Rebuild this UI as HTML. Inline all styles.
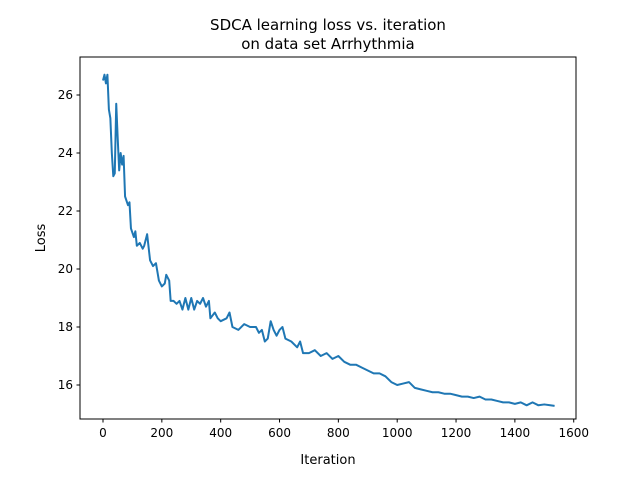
<!DOCTYPE html>
<html><head><meta charset="utf-8"><style>
body{margin:0;background:#fff;font-family:"Liberation Sans",sans-serif}
svg text{font-family:"DejaVu Sans","Liberation Sans",sans-serif}
</style></head><body>
<svg id="c" width="640" height="476" viewBox="0 0 640 476">
<text x="328" y="30" text-anchor="middle" font-size="15">SDCA learning loss vs. iteration</text>
<text x="328" y="49" text-anchor="middle" font-size="15">on data set Arrhythmia</text>
<text x="328" y="464" text-anchor="middle" font-size="13">Iteration</text>
<text transform="translate(45,238) rotate(-90)" text-anchor="middle" font-size="13">Loss</text>
<g id="marks"></g>
<rect x="80" y="57" width="496" height="362" fill="none" stroke="#000" stroke-width="1"/>
</svg>
<script>
const iters=[0,5,10,15,20,25,30,35,40,45,50,55,60,65,70,75,85,90,95,105,110,115,125,135,140,150,160,170,180,190,200,210,215,225,230,240,250,260,270,280,290,300,310,320,330,340,350,360,365,380,390,400,420,430,440,460,480,500,520,530,540,550,560,570,580,590,600,610,620,640,660,670,680,700,720,740,760,780,800,820,840,860,880,900,920,940,960,980,1000,1020,1040,1060,1080,1100,1120,1140,1160,1180,1200,1220,1240,1260,1280,1300,1320,1340,1360,1380,1400,1420,1440,1460,1480,1500,1520,1535];
const losses=[26.5,26.7,26.4,26.7,25.5,25.2,24.0,23.2,23.3,25.7,24.5,23.4,24.0,23.6,23.9,22.5,22.2,22.3,21.4,21.1,21.3,20.8,20.9,20.7,20.8,21.2,20.3,20.1,20.2,19.6,19.4,19.5,19.8,19.6,18.9,18.9,18.8,18.9,18.6,19.0,18.6,19.0,18.6,18.9,18.8,19.0,18.7,18.9,18.3,18.5,18.3,18.2,18.3,18.5,18.0,17.9,18.1,18.0,18.0,17.8,17.9,17.5,17.6,18.2,17.9,17.7,17.9,18.0,17.6,17.5,17.3,17.5,17.1,17.1,17.2,17.0,17.1,16.9,17.0,16.8,16.7,16.7,16.6,16.5,16.4,16.4,16.3,16.1,16.0,16.05,16.1,15.9,15.85,15.8,15.75,15.75,15.7,15.7,15.65,15.6,15.6,15.55,15.6,15.5,15.5,15.45,15.4,15.4,15.35,15.4,15.3,15.4,15.3,15.33,15.3,15.28];
const xTicks=[0,200,400,600,800,1000,1200,1400,1600];
const yTicks=[16,18,20,22,24,26];
const NS='http://www.w3.org/2000/svg';
const X=v=>103+v*0.2942;
const Y=v=>95+(26-v)*29;
const g=document.getElementById('marks');
function mk(t,a){const e=document.createElementNS(NS,t);for(const k in a)e.setAttribute(k,a[k]);g.appendChild(e);return e;}
xTicks.forEach(t=>{
 const l=mk('line',{x1:X(t),x2:X(t),y1:419,y2:422.5,stroke:'#000'});
 
 
 const tx=mk('text',{x:X(t),y:437,'text-anchor':'middle','font-size':12});
 tx.textContent=t;
 
 
});
yTicks.forEach(t=>{
 const l=mk('line',{x1:76.5,x2:80,y1:Y(t),y2:Y(t),stroke:'#000'});
 
 
 const tx=mk('text',{x:73,y:Y(t)+4,'text-anchor':'end','font-size':12});
 tx.textContent=t;
 
 
});
const p=mk('polyline',{points:iters.map((v,i)=>X(v)+','+Y(losses[i])).join(' '),fill:'none',stroke:'#1f77b4','stroke-width':2,'stroke-linejoin':'round'});


</script>
</body></html>
